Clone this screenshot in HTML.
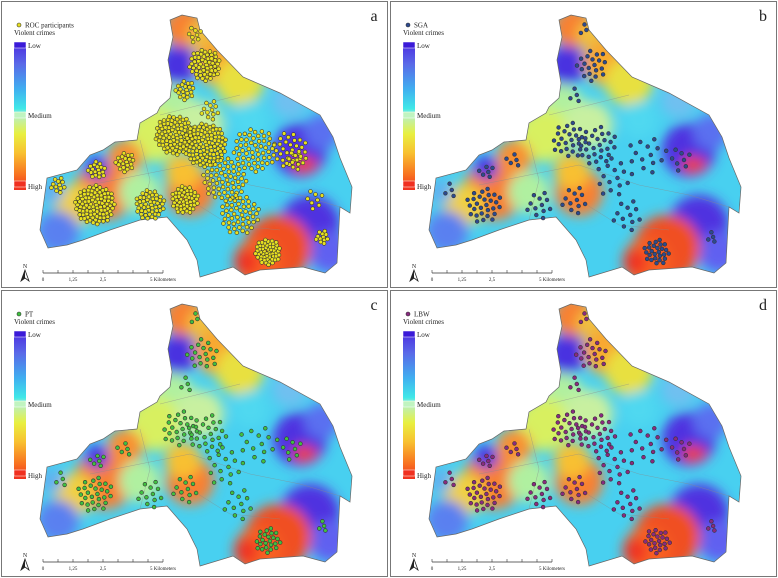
<!DOCTYPE html>
<html><head><meta charset="utf-8">
<style>
html,body{margin:0;padding:0;background:#fff;}
svg{display:block;font-family:"Liberation Serif",serif;}
</style></head>
<body>
<svg id="fig" width="778" height="578" viewBox="0 0 778 578">
<defs>
<linearGradient id="legGrad" x1="0" y1="0" x2="0" y2="1">
<stop offset="0" stop-color="#4a2ae0"/>
<stop offset="0.15" stop-color="#5a6ae8"/>
<stop offset="0.32" stop-color="#40b0f0"/>
<stop offset="0.45" stop-color="#40e8e8"/>
<stop offset="0.5" stop-color="#b8f0c0"/>
<stop offset="0.62" stop-color="#e8f040"/>
<stop offset="0.75" stop-color="#f8c030"/>
<stop offset="0.9" stop-color="#f87020"/>
<stop offset="1" stop-color="#f03020"/>
</linearGradient>
<filter id="blur" x="-50%" y="-50%" width="200%" height="200%"><feGaussianBlur stdDeviation="6"/></filter>
<clipPath id="mapClip"><polygon id="clipPoly"/></clipPath>
</defs>
</svg>
<script>
const NS="http://www.w3.org/2000/svg";
const svg=document.getElementById('fig');
const outline=[[48,248],[40,230],[47,178],[77,170],[90,155],[103,150],[115,142],[137,140],[140,123],[157,113],[160,107],[170,98],[172,83],[168,60],[173,37],[170,20],[182,15],[197,18],[200,30],[217,50],[243,77],[280,93],[320,115],[333,137],[340,158],[352,187],[350,213],[340,207],[337,263],[325,273],[303,267],[260,270],[245,275],[233,267],[200,277],[197,260],[187,240],[167,217],[140,220],[110,230],[83,240],[67,245]];
document.getElementById('clipPoly').setAttribute('points',outline.map(p=>p.join(',')).join(' '));
const blobs=[[185,28,14,"#f88030"],[202,35,10,"#f0c040"],[178,65,13,"#4a30e0"],[218,62,16,"#f8a830"],[240,82,16,"#e8e040"],[172,108,16,"#b0f0a0"],[155,135,18,"#d8f060"],[200,125,16,"#c8f0a0"],[190,192,16,"#f88030"],[183,172,12,"#f8c030"],[105,190,20,"#f88030"],[125,158,12,"#f89030"],[97,168,8,"#4a30e0"],[75,205,14,"#f0d040"],[140,192,14,"#b0f0a0"],[58,232,14,"#5a80f0"],[52,192,8,"#60b0f0"],[300,150,18,"#5030e0"],[302,165,6,"#f04020"],[312,165,4,"#f04020"],[322,132,12,"#5a70f0"],[310,225,20,"#5030e0"],[330,252,14,"#6060f0"],[278,248,22,"#f05020"],[258,262,16,"#f86020"],[246,262,8,"#f03020"],[290,100,12,"#70c0f0"],[250,120,12,"#50d8f0"]];
const panels=[
 {x:0,y:0,letter:"a",label:"ROC participants",dot:"#e8e020",clusters:[[195,35,8,8],[205,65,16,55],[185,90,10,20],[175,135,20,90],[205,145,22,110],[225,180,22,60],[255,150,22,55],[290,150,18,30],[97,170,9,18],[125,162,10,20],[95,205,20,95],[150,205,15,50],[185,200,14,50],[240,215,20,50],[268,252,13,55],[322,237,7,12],[58,185,8,12],[295,160,10,12],[315,200,10,8],[210,110,10,12]]},
 {x:389,y:0,letter:"b",label:"SGA",dot:"#2c4a90",clusters:[[195,30,6,3],[203,65,16,20],[185,95,8,4],[180,140,18,25],[208,145,20,28],[225,178,20,16],[258,155,20,14],[292,160,12,8],[97,172,8,6],[125,160,8,5],[95,205,18,28],[150,205,14,12],[185,200,14,12],[238,215,16,12],[268,252,13,26],[322,237,6,4],[60,190,8,4]]},
 {x:0,y:289,letter:"c",label:"PT",dot:"#40c040",clusters:[[195,30,6,3],[203,65,16,18],[185,95,8,4],[180,140,18,24],[208,145,20,26],[225,178,20,16],[258,155,20,14],[292,160,12,8],[97,172,8,6],[125,160,8,5],[95,205,18,28],[150,205,14,12],[185,200,14,12],[238,215,16,12],[268,252,13,24],[322,237,6,4],[60,190,8,4]]},
 {x:389,y:289,letter:"d",label:"LBW",dot:"#8a2a80",clusters:[[195,30,6,3],[203,65,16,18],[185,95,8,4],[180,140,18,24],[208,145,20,26],[225,178,20,16],[258,155,20,14],[292,160,12,8],[97,172,8,6],[125,160,8,5],[95,205,18,28],[150,205,14,12],[185,200,14,12],[238,215,16,12],[268,252,13,22],[322,237,6,4],[60,190,8,4]]}
];
function el(t,a,p){const e=document.createElementNS(NS,t);for(const k in a)e.setAttribute(k,a[k]);(p||svg).appendChild(e);return e;}
function txt(x,y,s,size,p,anchor){const t=el('text',{x:x,y:y,'font-size':size,fill:'#222','text-anchor':anchor||'start'},p);t.textContent=s;return t;}
panels.forEach(P=>{
 const g=el('g',{transform:`translate(${P.x},${P.y})`});
 
 
 el('rect',{x:1.5,y:1.5,width:386,height:286,fill:'#fff',stroke:'#777','stroke-width':1},g);
 const m=el('g',{'clip-path':'url(#mapClip)'},g);
 
 
 el('rect',{x:0,y:0,width:389,height:289,fill:'#48d0f0'},m);
 const bg=el('g',{filter:'url(#blur)'},m);
 blobs.forEach(b=>el('circle',{cx:b[0],cy:b[1],r:b[2]*1.5,fill:b[3]},bg));
 el('polygon',{points:outline.map(p=>p.join(',')).join(' '),fill:'none',stroke:'#666','stroke-width':0.7},g);
 [[[90,185],[140,175],[190,165],[250,185],[300,195],[340,207]],[[160,115],[200,105],[240,95]],[[190,200],[230,225],[280,230]],[[140,140],[150,180],[140,220]]].forEach(l=>el('polyline',{points:l.map(p=>p.join(',')).join(' '),fill:'none',stroke:'#888','stroke-width':0.5,opacity:0.6},g));
 const dg=el('g',{},g);
 
 
 P.clusters.forEach(c=>{for(let i=0;i<c[3];i++){const a=i*2.39996,rr=c[2]*Math.sqrt((i+0.5)/c[3]);const d=el('circle',{cx:(c[0]+rr*Math.cos(a)).toFixed(1),cy:(c[1]+rr*Math.sin(a)).toFixed(1),r:1.9,fill:P.dot,stroke:'#333','stroke-width':0.6},dg);}});
 const lg=el('g',{},g);
 
 
 el('circle',{cx:19,cy:25,r:2,fill:P.dot,stroke:'#333','stroke-width':0.6},lg);
 txt(25,27.5,P.label,7,lg);
 txt(14,35,"Violent  crimes",7,lg);
 el('rect',{x:14,y:42,width:12,height:148,fill:'url(#legGrad)'},lg);
 el('rect',{x:14,y:42,width:12,height:6,fill:'#3a1ad8',stroke:'#fff','stroke-width':0.5},lg);
 el('rect',{x:14,y:112,width:12,height:6,fill:'#c0f4c0',stroke:'#fff','stroke-width':0.5},lg);
 el('rect',{x:14,y:181,width:12,height:6,fill:'#f03020',stroke:'#fff','stroke-width':0.5},lg);
 txt(28,48,"Low",7,lg); txt(28,118,"Medium",7,lg); txt(28,189,"High",7,lg);
 const L=txt(374,21,P.letter,16,g,'middle');
 
 
 const na=el('g',{},g);
 
 
 txt(25,268,"N",6,na,'middle');
 el('polygon',{points:'25,270 21,281 25,278 29,281',fill:'#fff',stroke:'#222','stroke-width':0.8},na);
 el('polygon',{points:'25,270 21,281 25,278',fill:'#222'},na);
 const sb=el('g',{},g);
 
 
 el('line',{x1:43,y1:273,x2:163,y2:273,stroke:'#333','stroke-width':0.7},sb);
 for(let i=0;i<=8;i++){const x=43+i*15;el('line',{x1:x,y1:270,x2:x,y2:273,stroke:'#333','stroke-width':0.6},sb);}
 [["0",43],["1,25",73],["2,5",103],["5 Kilometers",163]].forEach(s=>txt(s[1],281,s[0],5,sb,'middle'));
});
</script>
</body></html>
